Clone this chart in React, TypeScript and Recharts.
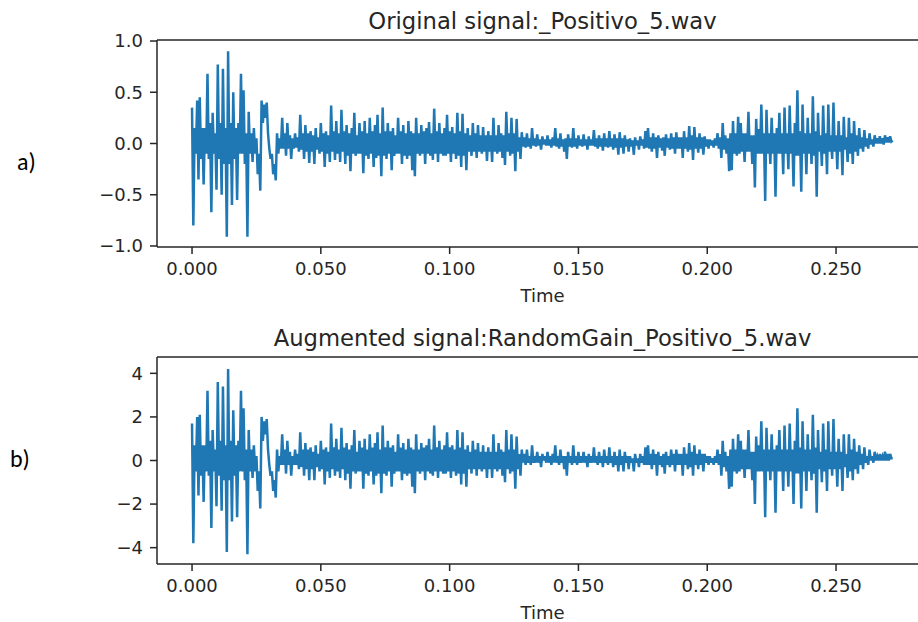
import { LineChart, Line, XAxis, YAxis } from 'recharts';

// spacing between plotted samples, in seconds
const SAMPLE_STEP = 0.0005;

const X_TICKS = [0, 0.05, 0.1, 0.15, 0.2, 0.25];
const ORIGINAL_TICKS = [-1, -0.5, 0, 0.5, 1];
const AUGMENTED_TICKS = [-4, -2, 0, 2, 4];

const ORIGINAL_TITLE = 'Original signal:_Positivo_5.wav';
const AUGMENTED_TITLE = 'Augmented signal:RandomGain_Positivo_5.wav';

// amplitudes, one every SAMPLE_STEP from t = 0
const ORIGINAL = [
  0.35, -0.8, 0.15, -0.1, 0.42, -0.35, 0.45, -0.15, 0.15, -0.4,
  0.15, -0.1, 0.68, -0.15, 0.2, -0.67, 0.3, -0.1, 0.1, -0.45,
  0.77, -0.15, 0.2, -0.5, 0.73, -0.2, 0.15, -0.91, 0.9, -0.2,
  0.2, -0.6, 0.5, -0.15, 0.15, -0.55, 0.2, -0.1, 0.68, -0.1,
  0.52, -0.2, 0.1, -0.91, 0.31, -0.1, 0.1, -0.18, 0.15, -0.1,
  0.05, -0.3, -0.1, -0.46, 0.42, 0.2, 0.38, 0.25, 0.4, 0.1,
  -0.05, -0.15, -0.1, -0.3, -0.2, -0.36, 0.1, -0.1, 0.05, -0.05,
  0.25, -0.05, 0.1, -0.12, 0.2, -0.05, 0.08, -0.15, 0.05, -0.05,
  0.1, -0.04, 0.06, -0.08, 0.28, -0.06, 0.1, -0.15, 0.18, -0.08,
  0.1, -0.19, 0.12, -0.08, 0.08, -0.2, 0.15, -0.06, 0.06, -0.1,
  0.2, -0.08, 0.1, -0.23, 0.12, -0.1, 0.08, -0.18, 0.37, -0.08,
  0.12, -0.16, 0.22, -0.1, 0.1, -0.18, 0.33, -0.08, 0.12, -0.2,
  0.18, -0.12, 0.1, -0.27, 0.15, -0.1, 0.3, -0.12, 0.08, -0.1,
  0.2, -0.1, 0.12, -0.29, 0.22, -0.12, 0.1, -0.15, 0.25, -0.1,
  0.12, -0.23, 0.18, -0.14, 0.28, -0.12, 0.1, -0.32, 0.35, -0.12,
  0.12, -0.15, 0.2, -0.1, 0.12, -0.26, 0.15, -0.12, 0.08, -0.1,
  0.25, -0.1, 0.12, -0.2, 0.18, -0.12, 0.1, -0.15, 0.22, -0.12,
  0.12, -0.26, 0.1, -0.32, 0.25, -0.1, 0.1, -0.12, 0.18, -0.1,
  0.12, -0.2, 0.15, -0.1, 0.21, -0.12, 0.1, -0.16, 0.34, -0.1,
  0.12, -0.18, 0.2, -0.1, 0.1, -0.12, 0.15, -0.12, 0.28, -0.1,
  0.12, -0.18, 0.16, -0.1, 0.1, -0.15, 0.3, -0.12, 0.12, -0.23,
  0.29, -0.12, 0.1, -0.26, 0.15, -0.08, 0.08, -0.12, 0.2, -0.08,
  0.1, -0.14, 0.18, -0.08, 0.08, -0.1, 0.16, -0.08, 0.08, -0.17,
  0.12, -0.08, 0.08, -0.18, 0.25, -0.08, 0.08, -0.1, 0.18, -0.08,
  0.1, -0.14, 0.08, -0.21, 0.31, -0.08, 0.1, -0.12, 0.25, -0.1,
  0.1, -0.27, 0.24, -0.08, 0.06, -0.15, 0.11, -0.03, 0.06, -0.04,
  0.1, -0.03, 0.05, -0.05, 0.15, -0.02, 0.05, -0.03, 0.09, -0.02,
  0.04, -0.06, 0.07, -0.01, 0.04, -0.02, 0.08, -0.02, 0.04, -0.04,
  0.06, -0.02, 0.15, -0.03, 0.05, -0.05, 0.1, -0.03, 0.04, -0.08,
  0.05, -0.15, 0.09, -0.03, 0.05, -0.04, 0.15, -0.03, 0.05, -0.05,
  0.08, -0.02, 0.04, -0.03, 0.09, -0.02, 0.04, -0.06, 0.07, -0.02,
  0.04, -0.02, 0.13, -0.03, 0.05, -0.05, 0.08, -0.03, 0.05, -0.07,
  0.1, -0.03, 0.05, -0.04, 0.12, -0.03, 0.05, -0.06, 0.09, -0.04,
  0.05, -0.11, 0.11, -0.04, 0.05, -0.1, 0.08, -0.03, 0.04, -0.08,
  0.05, -0.03, 0.03, -0.11, 0.06, -0.02, 0.03, -0.06, 0.07, -0.02,
  0.04, -0.05, 0.12, -0.04, 0.15, -0.05, 0.06, -0.08, 0.1, -0.05,
  0.06, -0.14, 0.08, -0.04, 0.05, -0.07, 0.06, -0.12, 0.09, -0.04,
  0.05, -0.06, 0.1, -0.05, 0.06, -0.1, 0.11, -0.05, 0.06, -0.05,
  0.06, -0.14, 0.12, -0.05, 0.06, -0.08, 0.17, -0.06, 0.08, -0.16,
  0.16, -0.05, 0.06, -0.09, 0.1, -0.05, 0.06, -0.11, 0.07, -0.03,
  0.04, -0.05, 0.04, -0.02, 0.03, -0.04, 0.05, -0.02, 0.1, -0.05,
  0.06, -0.14, 0.2, -0.06, 0.08, -0.1, 0.05, -0.27, 0.1, -0.26,
  0.22, -0.1, 0.1, -0.12, 0.26, -0.1, 0.2, -0.08, 0.1, -0.18,
  0.1, -0.08, 0.31, -0.08, 0.08, -0.2, 0.08, -0.43, 0.24, -0.1,
  0.14, -0.1, 0.38, -0.1, 0.1, -0.56, 0.33, -0.1, 0.1, -0.2,
  0.25, -0.1, 0.1, -0.52, 0.15, -0.1, 0.3, -0.1, 0.1, -0.3,
  0.35, -0.1, 0.1, -0.25, 0.37, -0.1, 0.1, -0.42, 0.2, -0.12,
  0.52, -0.12, 0.12, -0.47, 0.38, -0.1, 0.1, -0.3, 0.25, -0.1,
  0.1, -0.2, 0.46, -0.12, 0.12, -0.52, 0.3, -0.08, 0.08, -0.22,
  0.37, -0.1, 0.1, -0.3, 0.38, -0.08, 0.08, -0.15, 0.4, -0.08,
  0.08, -0.25, 0.22, -0.08, 0.08, -0.31, 0.26, -0.06, 0.06, -0.18,
  0.25, -0.1, 0.1, -0.2, 0.22, -0.08, 0.08, -0.12, 0.15, -0.05,
  0.06, -0.08, 0.13, -0.03, 0.05, -0.05, 0.1, -0.01, 0.04, -0.03,
  0.08, 0.0, 0.05, 0.0, 0.07, 0.0, 0.05, -0.01, 0.08, 0.01,
  0.06, 0.01, 0.07, 0.02, 0.03,
];

const AUGMENTED = [
  1.7, -3.8, 0.7, -0.5, 2.0, -1.6, 2.1, -0.7, 0.7, -1.9,
  0.7, -0.5, 3.2, -0.7, 0.9, -3.1, 1.4, -0.5, 0.5, -2.1,
  3.6, -0.7, 0.9, -2.3, 3.4, -0.9, 0.7, -4.2, 4.2, -0.9,
  0.9, -2.8, 2.3, -0.7, 0.7, -2.6, 0.9, -0.5, 3.2, -0.5,
  2.4, -0.9, 0.5, -4.3, 1.4, -0.5, 0.5, -0.8, 0.7, -0.5,
  0.2, -1.4, -0.5, -2.2, 2.0, 0.9, 1.8, 1.2, 1.9, 0.5,
  -0.2, -0.7, -0.5, -1.4, -0.9, -1.7, 0.5, -0.5, 0.2, -0.2,
  1.2, -0.2, 0.5, -0.6, 0.9, -0.2, 0.4, -0.7, 0.2, -0.2,
  0.5, -0.2, 0.3, -0.4, 1.3, -0.3, 0.5, -0.7, 0.8, -0.4,
  0.5, -0.9, 0.6, -0.4, 0.4, -0.9, 0.7, -0.3, 0.3, -0.5,
  0.9, -0.4, 0.5, -1.1, 0.6, -0.5, 0.4, -0.8, 1.7, -0.4,
  0.6, -0.7, 1.0, -0.5, 0.5, -0.8, 1.5, -0.4, 0.6, -0.9,
  0.8, -0.6, 0.5, -1.3, 0.7, -0.5, 1.4, -0.6, 0.4, -0.5,
  0.9, -0.5, 0.6, -1.3, 1.0, -0.6, 0.5, -0.7, 1.2, -0.5,
  0.6, -1.1, 0.8, -0.7, 1.3, -0.6, 0.5, -1.5, 1.6, -0.6,
  0.6, -0.7, 0.9, -0.5, 0.6, -1.2, 0.7, -0.6, 0.4, -0.5,
  1.2, -0.5, 0.6, -0.9, 0.8, -0.6, 0.5, -0.7, 1.0, -0.6,
  0.6, -1.2, 0.5, -1.5, 1.2, -0.5, 0.5, -0.6, 0.8, -0.5,
  0.6, -0.9, 0.7, -0.5, 1.0, -0.6, 0.5, -0.7, 1.6, -0.5,
  0.6, -0.8, 0.9, -0.5, 0.5, -0.6, 0.7, -0.6, 1.3, -0.5,
  0.6, -0.8, 0.7, -0.5, 0.5, -0.7, 1.4, -0.6, 0.6, -1.1,
  1.3, -0.6, 0.5, -1.2, 0.7, -0.4, 0.4, -0.6, 0.9, -0.4,
  0.5, -0.7, 0.8, -0.4, 0.4, -0.5, 0.7, -0.4, 0.4, -0.8,
  0.6, -0.4, 0.4, -0.8, 1.2, -0.4, 0.4, -0.5, 0.8, -0.4,
  0.5, -0.7, 0.4, -1.0, 1.4, -0.4, 0.5, -0.6, 1.2, -0.5,
  0.5, -1.3, 1.1, -0.4, 0.3, -0.7, 0.5, -0.1, 0.3, -0.2,
  0.5, -0.1, 0.2, -0.2, 0.7, -0.1, 0.2, -0.1, 0.4, -0.1,
  0.2, -0.3, 0.3, 0.0, 0.2, -0.1, 0.4, -0.1, 0.2, -0.2,
  0.3, -0.1, 0.7, -0.1, 0.2, -0.2, 0.5, -0.1, 0.2, -0.4,
  0.2, -0.7, 0.4, -0.1, 0.2, -0.2, 0.7, -0.1, 0.2, -0.2,
  0.4, -0.1, 0.2, -0.1, 0.4, -0.1, 0.2, -0.3, 0.3, -0.1,
  0.2, -0.1, 0.6, -0.1, 0.2, -0.2, 0.4, -0.1, 0.2, -0.3,
  0.5, -0.1, 0.2, -0.2, 0.6, -0.1, 0.2, -0.3, 0.4, -0.2,
  0.2, -0.5, 0.5, -0.2, 0.2, -0.5, 0.4, -0.1, 0.2, -0.4,
  0.2, -0.1, 0.1, -0.5, 0.3, -0.1, 0.1, -0.3, 0.3, -0.1,
  0.2, -0.2, 0.6, -0.2, 0.7, -0.2, 0.3, -0.4, 0.5, -0.2,
  0.3, -0.7, 0.4, -0.2, 0.2, -0.3, 0.3, -0.6, 0.4, -0.2,
  0.2, -0.3, 0.5, -0.2, 0.3, -0.5, 0.5, -0.2, 0.3, -0.2,
  0.3, -0.7, 0.6, -0.2, 0.3, -0.4, 0.8, -0.3, 0.4, -0.7,
  0.7, -0.2, 0.3, -0.4, 0.5, -0.2, 0.3, -0.5, 0.3, -0.1,
  0.2, -0.2, 0.2, -0.1, 0.1, -0.2, 0.2, -0.1, 0.5, -0.2,
  0.3, -0.7, 0.9, -0.3, 0.4, -0.5, 0.2, -1.3, 0.5, -1.2,
  1.0, -0.5, 0.5, -0.6, 1.2, -0.5, 0.9, -0.4, 0.5, -0.8,
  0.5, -0.4, 1.4, -0.4, 0.4, -0.9, 0.4, -2.0, 1.1, -0.5,
  0.7, -0.5, 1.8, -0.5, 0.5, -2.6, 1.5, -0.5, 0.5, -0.9,
  1.2, -0.5, 0.5, -2.4, 0.7, -0.5, 1.4, -0.5, 0.5, -1.4,
  1.6, -0.5, 0.5, -1.2, 1.7, -0.5, 0.5, -2.0, 0.9, -0.6,
  2.4, -0.6, 0.6, -2.2, 1.8, -0.5, 0.5, -1.4, 1.2, -0.5,
  0.5, -0.9, 2.1, -0.6, 0.6, -2.4, 1.4, -0.4, 0.4, -1.0,
  1.7, -0.5, 0.5, -1.4, 1.8, -0.4, 0.4, -0.7, 1.9, -0.4,
  0.4, -1.2, 1.0, -0.4, 0.4, -1.4, 1.2, -0.3, 0.3, -0.8,
  1.2, -0.5, 0.5, -0.9, 1.0, -0.4, 0.4, -0.6, 0.7, -0.2,
  0.3, -0.4, 0.6, -0.1, 0.2, -0.2, 0.5, 0.0, 0.2, -0.1,
  0.4, 0.0, 0.2, 0.0, 0.3, 0.0, 0.2, 0.0, 0.4, 0.0,
  0.3, 0.0, 0.3, 0.1, 0.1,
];

const FONT = "'DejaVu Sans', sans-serif";
const INK = '#262626';
const LINE_BLUE = '#1f77b4';
const X_DOMAIN: [number, number] = [-0.0136, 0.2857];

const fmtTime = (v: number) => v.toFixed(3);
const fmtOriginal = (v: number) => v.toFixed(1).replace('-', '\u2212');
const fmtAugmented = (v: number) => String(v).replace('-', '\u2212');

const tickStyle = { fill: INK, fontSize: 18, fontFamily: FONT };
const spine = { stroke: INK, strokeWidth: 1.5 };

interface PanelProps {
  data: { t: number; v: number }[];
  top: number;
  height: number;
  marginTop: number;
  axisHeight: number;
  labelOffset: number;
  yDomain: [number, number];
  yTicks: number[];
  yFormat: (v: number) => string;
}

function Panel({ data, top, height, marginTop, axisHeight, labelOffset, yDomain, yTicks, yFormat }: PanelProps) {
  return (
    <div style={{ position: 'absolute', left: 0, top }}>
      <LineChart
        width={960}
        height={height}
        data={data}
        margin={{ top: marginTop, right: 32, bottom: 0, left: 0 }}
      >
        {/* top spine: an empty axis one pixel tall */}
        <XAxis
          xAxisId="top"
          orientation="top"
          type="number"
          dataKey="t"
          domain={X_DOMAIN}
          allowDataOverflow
          height={1}
          tick={false}
          tickLine={false}
          axisLine={spine}
        />
        <XAxis
          type="number"
          dataKey="t"
          domain={X_DOMAIN}
          allowDataOverflow
          ticks={X_TICKS}
          tickFormatter={fmtTime}
          tick={tickStyle}
          tickSize={7}
          tickMargin={8}
          tickLine={spine}
          axisLine={spine}
          height={axisHeight}
          label={{
            value: 'Time',
            position: 'insideBottom',
            offset: labelOffset,
            fill: INK,
            fontSize: 18,
            fontFamily: FONT,
          }}
        />
        <YAxis
          type="number"
          domain={yDomain}
          allowDataOverflow
          ticks={yTicks}
          tickFormatter={yFormat}
          tick={tickStyle}
          tickSize={7}
          tickMargin={7}
          tickLine={spine}
          axisLine={spine}
          width={157}
        />
        <Line
          type="linear"
          dataKey="v"
          stroke={LINE_BLUE}
          strokeWidth={2.5}
          dot={false}
          isAnimationActive={false}
        />
      </LineChart>
    </div>
  );
}

export default function App() {
  const originalData = ORIGINAL.map((v, i) => ({ t: i * SAMPLE_STEP, v }));
  const augmentedData = AUGMENTED.map((v, i) => ({ t: i * SAMPLE_STEP, v }));

  return (
    <div
      style={{
        position: 'fixed',
        left: 0,
        top: 0,
        width: 918,
        height: 622,
        overflow: 'hidden',
        background: '#fff',
      }}
    >
      <Panel
        data={originalData}
        top={0}
        height={310}
        marginTop={39}
        axisHeight={63}
        labelOffset={8.5}
        yDomain={[-1.01, 1.01]}
        yTicks={ORIGINAL_TICKS}
        yFormat={fmtOriginal}
      />
      <Panel
        data={augmentedData}
        top={310}
        height={312}
        marginTop={46}
        axisHeight={58}
        labelOffset={3.5}
        yDomain={[-4.75, 4.75]}
        yTicks={AUGMENTED_TICKS}
        yFormat={fmtAugmented}
      />

      {/* titles and the a) / b) panel letters */}
      <svg
        width={918}
        height={622}
        style={{ position: 'absolute', left: 0, top: 0, pointerEvents: 'none' }}
      >
        <text x={542.5} y={29} textAnchor="middle" fontSize={22.7} fontFamily={FONT} fill={INK}>
          {ORIGINAL_TITLE}
        </text>
        <text x={542.5} y={346} textAnchor="middle" fontSize={22.7} fontFamily={FONT} fill={INK}>
          {AUGMENTED_TITLE}
        </text>
        <text x={17} y={170} fontSize={24} fontFamily="Carlito, Lato, sans-serif" fill="#000">
          a)
        </text>
        <text x={10} y={467} fontSize={24} fontFamily="Carlito, Lato, sans-serif" fill="#000">
          b)
        </text>
      </svg>
    </div>
  );
}
